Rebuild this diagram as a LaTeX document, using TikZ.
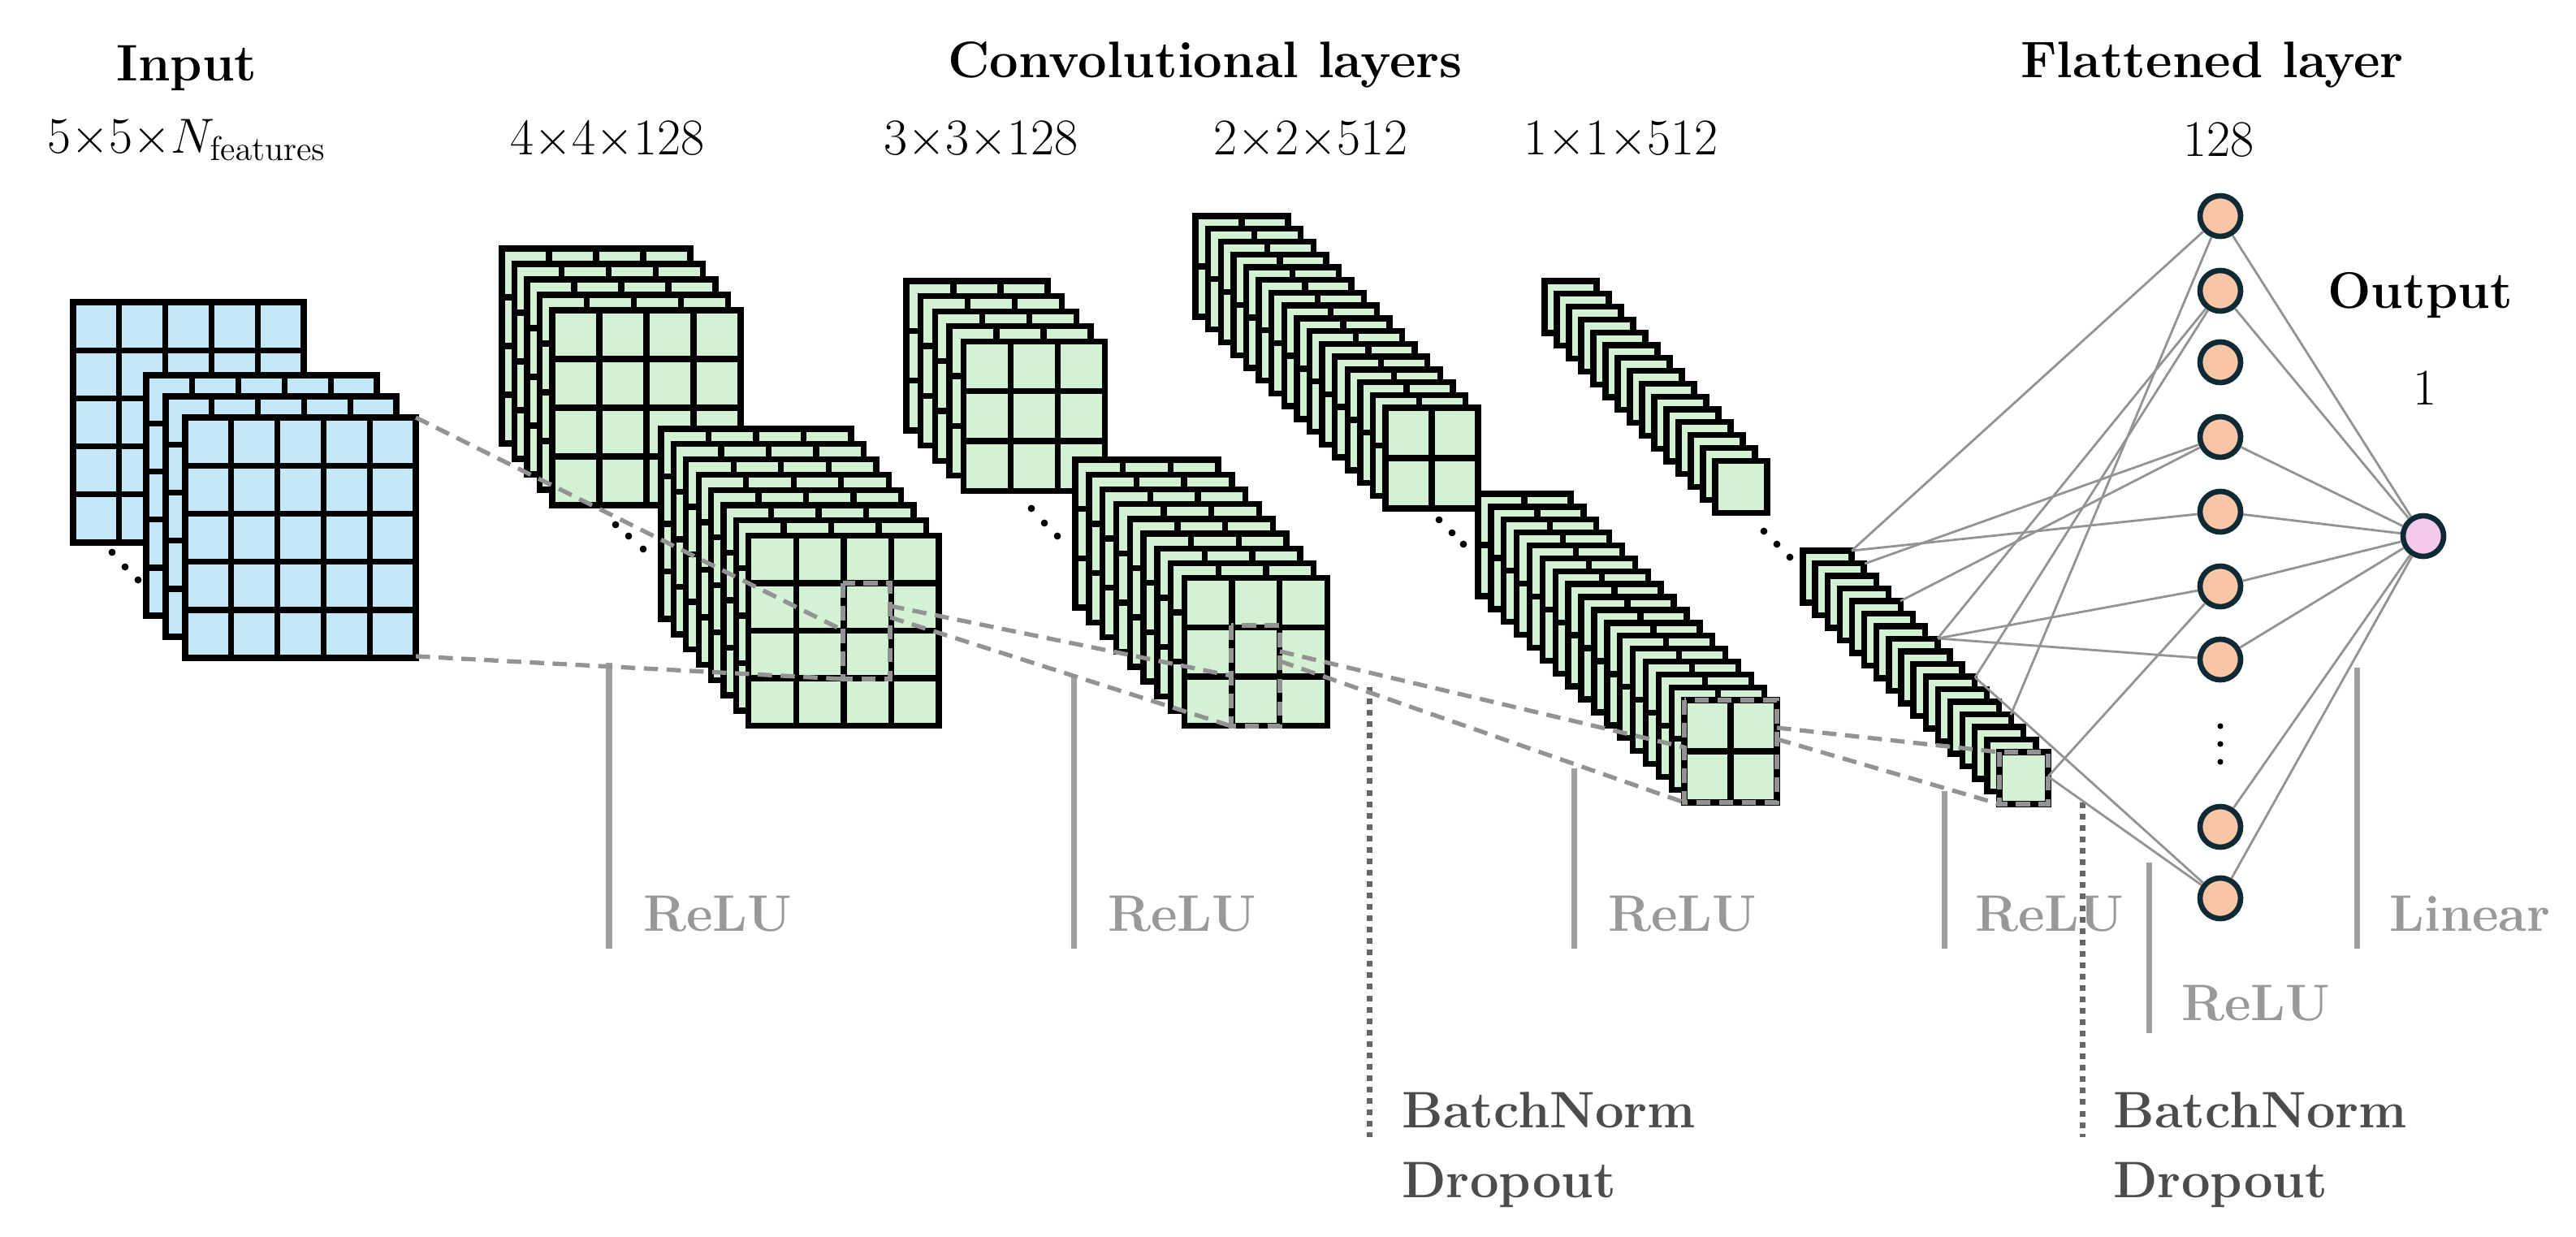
\documentclass[tikz,border=0pt]{standalone}
\begin{document}
\definecolor{gtile}{HTML}{D3F1D3}
\definecolor{btile}{HTML}{C3E9F8}
\definecolor{neu}{HTML}{F8C6A6}
\definecolor{outc}{HTML}{F5C9EA}
\definecolor{ndraw}{HTML}{0F2A35}
\tikzset{
 tile/.style={draw=black,line width=2.1pt,fill=gtile},
 gridl/.style={draw=black,line width=2.1pt},
 rf/.style={draw=gray!85,line width=1.5pt,dash pattern=on 5pt off 3pt},
 conn/.style={draw=gray!85,line width=0.8pt},
 act/.style={draw=gray!75,line width=2pt},
 bn/.style={draw=gray!80!black,line width=2pt,dash pattern=on 2pt off 2pt},
 neuron/.style={circle,draw=ndraw,line width=1.9pt,fill=neu,minimum size=0.5cm,inner sep=0pt},
 ttl/.style={font=\fontsize{18}{21}\selectfont\bfseries},
 dim/.style={font=\fontsize{18}{21}\selectfont},
 actl/.style={font=\fontsize{18}{21}\selectfont\bfseries,text=gray!80,anchor=base west},
 bnl/.style={font=\fontsize{18}{21}\selectfont\bfseries,text=black!70,anchor=base west},
 dot/.style={fill=black}
}
\newcommand\mytile[5]{%
 \filldraw[tile] ({#1},{#2}) rectangle ++(#3,#4);
 \ifnum#5>1
  \pgfmathtruncatemacro\nm{#5-1}%
  \foreach \k in {1,...,\nm}{%
   \draw[gridl] ({#1+\k*#3/#5},{#2}) -- ++(0,#4);
   \draw[gridl] ({#1},{#2+\k*#4/#5}) -- ++(#3,0);}
 \fi}
\newcommand\mystack[8]{%
 \pgfmathtruncatemacro\cmx{#5-1}%
 \foreach \i in {0,...,\cmx}{\mytile{#1+\i*#3}{#2+\i*#4}{#6}{#7}{#8}}}
\begin{tikzpicture}[x=0.02cm,y=-0.02cm]
\useasboundingbox (0,0) rectangle (1586,761);
% titles
\node[ttl] (tin) at (115,42) {Input};
\node[ttl] (tconv) at (742,40) {Convolutional layers};
\node[ttl] (tfl) at (1362,40) {Flattened layer};
\node[dim] (d0) at (115,86) {5$\times$5$\times$$N_{\mathrm{features}}$};
\node[dim] (d1) at (374,86) {4$\times$4$\times$128};
\node[dim] (d2) at (604,86) {3$\times$3$\times$128};
\node[dim] (d3) at (807,86) {2$\times$2$\times$512};
\node[dim] (d4) at (998,86) {1$\times$1$\times$512};
\node[dim] (d5) at (1366,86) {128};
\node[ttl,anchor=west] (tout) at (1427,182) {Output};
\node[dim] (d6) at (1493,239) {1};
% activation lines
\draw[act] (375,408) -- (375,584); \node[actl] (r1) at (390,573) {ReLU};
\draw[act] (661,416) -- (661,584); \node[actl] (r2) at (676,573) {ReLU};
\draw[act] (969,473) -- (969,584); \node[actl] (r3) at (984,573) {ReLU};
\draw[act] (1197,487) -- (1197,584); \node[actl] (r4) at (1210,573) {ReLU};
\draw[act] (1323,531) -- (1323,636); \node[actl] (r5) at (1337,628) {ReLU};
\draw[act] (1451,411) -- (1451,584); \node[actl] (r6) at (1465,573) {Linear};
\draw[bn] (843,423) -- (843,700);
\node[bnl] (b1) at (857,694) {BatchNorm}; \node[bnl] (b2) at (857,737) {Dropout};
\draw[bn] (1282,494) -- (1282,700);
\node[bnl] (b3) at (1295,694) {BatchNorm}; \node[bnl] (b4) at (1295,737) {Dropout};
% input
\begin{scope}[tile/.append style={fill=btile}]
\mytile{45}{186}{142}{148}{5}
\mystack{90}{231}{12}{13}{3}{142}{148}{5}
\end{scope}
\foreach \p in {(69,340),(77,349),(85,357)} \fill[dot] \p circle (2.2);
% conv1
\mystack{309}{153}{7.75}{9.5}{5}{116}{120}{4}
\mystack{407}{264}{7.7}{9.4}{8}{117}{117}{4}
\foreach \p in {(379,323),(387,330),(396,338)} \fill[dot] \p circle (2.2);
% conv2
\mystack{558}{173}{8.8}{9.3}{5}{87}{92}{3}
\mystack{662}{283}{8.4}{9.1}{9}{88}{91}{3}
\foreach \p in {(635,313),(643,322),(651,330)} \fill[dot] \p circle (2.2);
% conv3
\mystack{736}{133}{7.8}{7.87}{16}{57}{62}{2}
\mystack{910}{304}{7.94}{7.94}{17}{57}{63}{2}
\foreach \p in {(886,320),(894,328),(901,335)} \fill[dot] \p circle (2.2);
% conv4
\mystack{951}{173}{7.5}{7.9}{15}{32}{32}{1}
\mystack{1110}{339}{7.56}{7.75}{17}{30}{32}{1}
\foreach \p in {(1086,327),(1094,335),(1102,343)} \fill[dot] \p circle (2.2);
% receptive field boxes and lines
\draw[rf] (519,359) rectangle (548,418);
\draw[rf] (758,385) rectangle (788,447);
\draw[rf] (1037,431) rectangle (1094,494);
\draw[rf] (1231,463) rectangle (1261,495);
\coordinate (i1) at (256,257); \coordinate (i2) at (256,404);
\coordinate (c1a) at (519,388); \coordinate (c1b) at (519,418);
\coordinate (c1c) at (548,373); \coordinate (c1d) at (548,380);
\coordinate (c2a) at (758,416); \coordinate (c2b) at (758,447);
\coordinate (c2c) at (788,401); \coordinate (c2d) at (788,407);
\coordinate (c3a) at (1037,460); \coordinate (c3b) at (1037,494);
\coordinate (c3c) at (1094,448); \coordinate (c3d) at (1094,455);
\coordinate (c4a) at (1231,463); \coordinate (c4b) at (1231,495);
\draw[rf] (i1) -- (c1a); \draw[rf] (i2) -- (c1b);
\draw[rf] (c1c) -- (c2a); \draw[rf] (c1d) -- (c2b);
\draw[rf] (c2c) -- (c3a); \draw[rf] (c2d) -- (c3b);
\draw[rf] (c3c) -- (c4a); \draw[rf] (c3d) -- (c4b);
% neurons
\foreach \n/\y in {1/133,2/179,3/223,4/269,5/315,6/361,7/406,8/509,9/553}
  \node[neuron] (n\n) at (1367,\y) {};
\foreach \p in {(1367,447),(1367,458),(1367,469)} \fill[dot] \p circle (1.8);
\node[neuron,fill=outc] (out) at (1492,330) {};
% sources on flattened stack
\coordinate (s0) at (1140,339);
\coordinate (s1) at (1148,347);
\coordinate (s4) at (1170,370);
\coordinate (s7) at (1193,393);
\coordinate (s10) at (1216,417);
\coordinate (s13) at (1238,440);
\coordinate (sf) at (1261,478);
\foreach \a/\b in {s0/n1,s0/n5,s1/n4,s4/n4,s7/n2,s7/n6,s7/n7,s10/n2,s10/n9,s13/n1,sf/n6,sf/n9}
  \draw[conn] (\a) -- (\b);
\foreach \n in {1,2,4,5,6,7,8,9} \draw[conn] (n\n) -- (out);
\end{tikzpicture}
\end{document}
